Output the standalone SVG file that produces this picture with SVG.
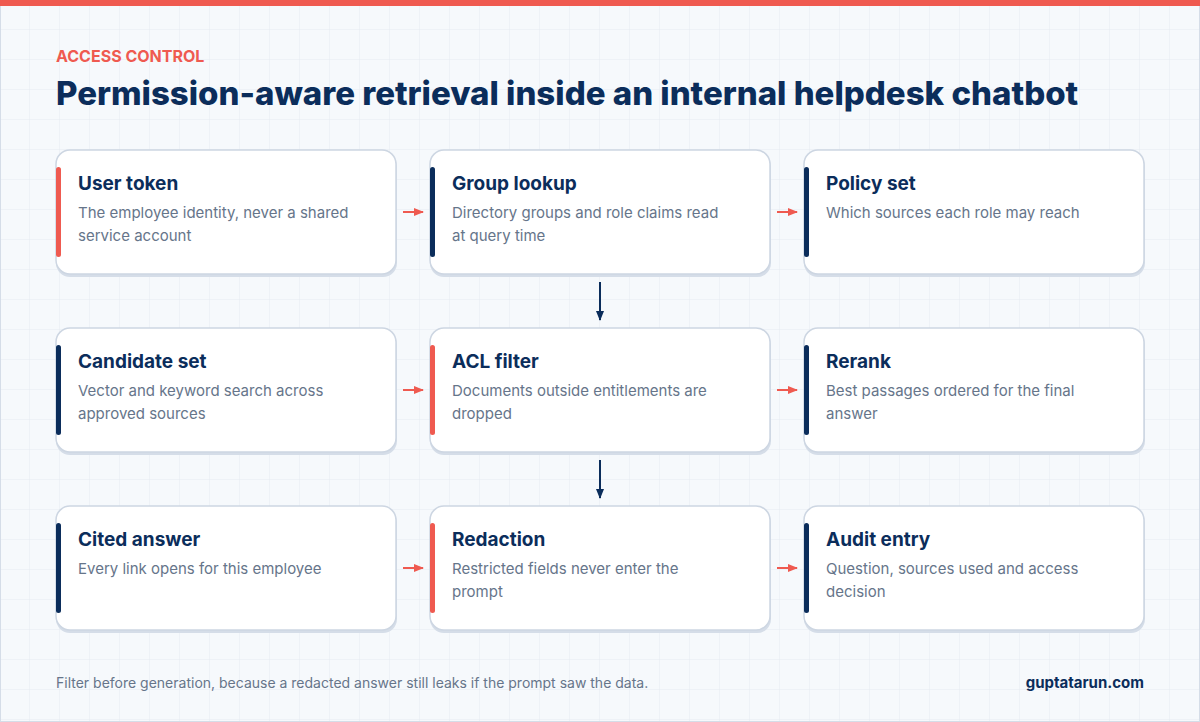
<svg xmlns="http://www.w3.org/2000/svg" width="1200" height="722" viewBox="0 0 1200 722">
<defs>
<pattern id="grid" width="30" height="30" patternUnits="userSpaceOnUse"><path d="M30 0V30H0" fill="none" stroke="#e6ebf2" stroke-width="1"/></pattern>
<marker id="ar" viewBox="0 0 10 10" refX="9" refY="5" markerWidth="10" markerHeight="10" markerUnits="userSpaceOnUse" orient="auto"><path d="M0 1L10 5L0 9Z" fill="#ef5a50"/></marker>
<marker id="an" viewBox="0 0 10 10" refX="9" refY="5" markerWidth="10" markerHeight="10" markerUnits="userSpaceOnUse" orient="auto"><path d="M0 1L10 5L0 9Z" fill="#0b2d5b"/></marker>
</defs>
<style>
text{font-family:Inter,"Noto Sans",sans-serif}
.card{fill:#fff;stroke:#cdd6e2;stroke-width:1.5}
.sh{fill:#d5dde8}
.t{font-size:19px;font-weight:700;fill:#0b2d5b}
.d{font-size:15px;fill:#66758a}
.r{fill:#ef5a50}.n{fill:#0b2d5b}
.h{stroke:#ef5a50;stroke-width:2;marker-end:url(#ar)}
.v{stroke:#0b2d5b;stroke-width:2;marker-end:url(#an)}
</style>
<rect width="1200" height="722" fill="#f6f9fc"/>
<rect width="1200" height="722" fill="url(#grid)"/>
<rect x="0.5" y="0.5" width="1199" height="721" fill="none" stroke="#d5dde8"/>
<rect width="1200" height="6" fill="#ef5a50"/>
<text x="56" y="62" font-size="16" font-weight="700" fill="#ef5a50">ACCESS CONTROL</text>
<text x="56" y="105" font-size="33" font-weight="800" fill="#0b2d5b">Permission-aware retrieval inside an internal helpdesk chatbot</text>

<g id="n1"><rect class="sh" x="56" y="153" width="341" height="124" rx="14"/><rect class="card" x="56" y="150" width="340" height="124" rx="14"/><rect class="r" x="56" y="167" width="5" height="90" rx="2.5"/><text class="t" x="78" y="190">User token</text><text class="d" x="78" y="218">The employee identity, never a shared</text><text class="d" x="78" y="241">service account</text></g>
<g id="n2"><rect class="sh" x="430" y="153" width="341" height="124" rx="14"/><rect class="card" x="430" y="150" width="340" height="124" rx="14"/><rect class="n" x="430" y="167" width="5" height="90" rx="2.5"/><text class="t" x="452" y="190">Group lookup</text><text class="d" x="452" y="218">Directory groups and role claims read</text><text class="d" x="452" y="241">at query time</text></g>
<g id="n3"><rect class="sh" x="804" y="153" width="341" height="124" rx="14"/><rect class="card" x="804" y="150" width="340" height="124" rx="14"/><rect class="n" x="804" y="167" width="5" height="90" rx="2.5"/><text class="t" x="826" y="190">Policy set</text><text class="d" x="826" y="218">Which sources each role may reach</text></g>

<g id="n4"><rect class="sh" x="56" y="331" width="341" height="124" rx="14"/><rect class="card" x="56" y="328" width="340" height="124" rx="14"/><rect class="n" x="56" y="345" width="5" height="90" rx="2.5"/><text class="t" x="78" y="368">Candidate set</text><text class="d" x="78" y="396">Vector and keyword search across</text><text class="d" x="78" y="419">approved sources</text></g>
<g id="n5"><rect class="sh" x="430" y="331" width="341" height="124" rx="14"/><rect class="card" x="430" y="328" width="340" height="124" rx="14"/><rect class="r" x="430" y="345" width="5" height="90" rx="2.5"/><text class="t" x="452" y="368">ACL filter</text><text class="d" x="452" y="396">Documents outside entitlements are</text><text class="d" x="452" y="419">dropped</text></g>
<g id="n6"><rect class="sh" x="804" y="331" width="341" height="124" rx="14"/><rect class="card" x="804" y="328" width="340" height="124" rx="14"/><rect class="n" x="804" y="345" width="5" height="90" rx="2.5"/><text class="t" x="826" y="368">Rerank</text><text class="d" x="826" y="396">Best passages ordered for the final</text><text class="d" x="826" y="419">answer</text></g>

<g id="n7"><rect class="sh" x="56" y="509" width="341" height="124" rx="14"/><rect class="card" x="56" y="506" width="340" height="124" rx="14"/><rect class="n" x="56" y="523" width="5" height="90" rx="2.5"/><text class="t" x="78" y="546">Cited answer</text><text class="d" x="78" y="574">Every link opens for this employee</text></g>
<g id="n8"><rect class="sh" x="430" y="509" width="341" height="124" rx="14"/><rect class="card" x="430" y="506" width="340" height="124" rx="14"/><rect class="r" x="430" y="523" width="5" height="90" rx="2.5"/><text class="t" x="452" y="546">Redaction</text><text class="d" x="452" y="574">Restricted fields never enter the</text><text class="d" x="452" y="597">prompt</text></g>
<g id="n9"><rect class="sh" x="804" y="509" width="341" height="124" rx="14"/><rect class="card" x="804" y="506" width="340" height="124" rx="14"/><rect class="n" x="804" y="523" width="5" height="90" rx="2.5"/><text class="t" x="826" y="546">Audit entry</text><text class="d" x="826" y="574">Question, sources used and access</text><text class="d" x="826" y="597">decision</text></g>

<g id="connectors">
<line class="h" x1="403" y1="212" x2="423" y2="212"/>
<line class="h" x1="777" y1="212" x2="797" y2="212"/>
<line class="h" x1="403" y1="390" x2="423" y2="390"/>
<line class="h" x1="777" y1="390" x2="797" y2="390"/>
<line class="h" x1="403" y1="568" x2="423" y2="568"/>
<line class="h" x1="777" y1="568" x2="797" y2="568"/>
<line class="v" x1="600" y1="282" x2="600" y2="320"/>
<line class="v" x1="600" y1="460" x2="600" y2="498"/>
</g>
<text x="56" y="688" font-size="14" fill="#66758a">Filter before generation, because a redacted answer still leaks if the prompt saw the data.</text>
<text x="1144" y="688" font-size="15" font-weight="700" fill="#0b2d5b" text-anchor="end">guptatarun.com</text>
</svg>
